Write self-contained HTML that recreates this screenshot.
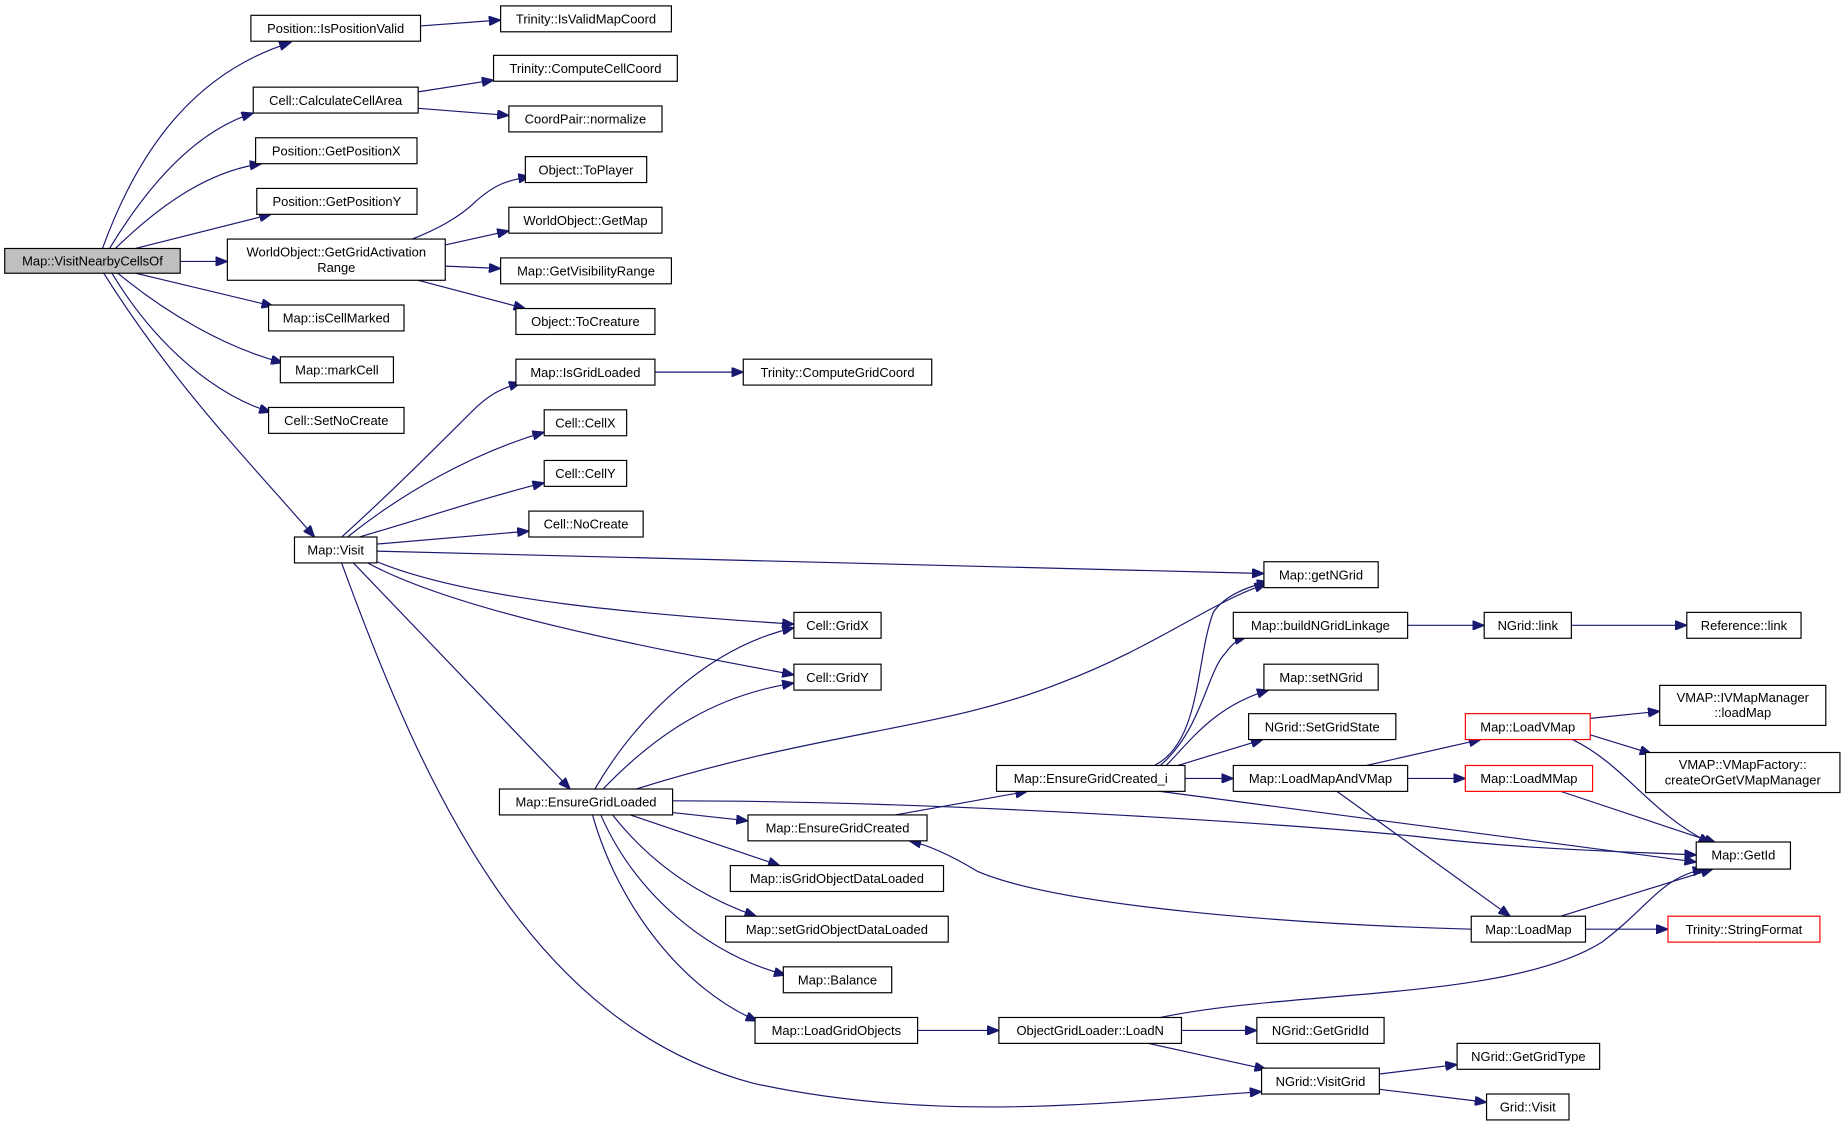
<!DOCTYPE html>
<html><head><meta charset="utf-8"><style>
html,body{margin:0;padding:0;background:#fff;}
svg{display:block;}
text{font-family:"Liberation Sans","DejaVu Sans",sans-serif;font-size:11px;fill:#000;text-anchor:middle;}
.n{fill:#fff;stroke:#000;stroke-width:1;}
.r{fill:#fff;stroke:#ff0000;stroke-width:1;}
.e{fill:none;stroke:#191970;stroke-width:1;marker-end:url(#a);}
</style></head><body>
<svg width="1847" height="1127" viewBox="0 0 1568 957" preserveAspectRatio="none">
<defs><marker id="a" markerUnits="userSpaceOnUse" markerWidth="11" markerHeight="8" refX="10" refY="4" orient="auto"><path d="M0,0 L10,4 L0,8 Z" fill="#191970" stroke="#191970"/></marker></defs>
<g>
<path class="e" d="M87,211 C120,120 170,60 247,36"/>
<path class="e" d="M93,211 C130,150 170,110 215,96"/>
<path class="e" d="M98,211 C140,170 180,145 222,139"/>
<path class="e" d="M115,211 L230,182"/>
<path class="e" d="M153,222 L193,222"/>
<path class="e" d="M115,232 L232,260"/>
<path class="e" d="M100,232 C140,265 190,295 240,308"/>
<path class="e" d="M95,232 C130,290 180,335 230,350"/>
<path class="e" d="M88,232 C150,330 210,390 267,456"/>
<path class="e" d="M357,22 L425,17"/>
<path class="e" d="M355,78 L419,68"/>
<path class="e" d="M355,92 L432,98"/>
<path class="e" d="M350,203 C370,195 390,185 405,170 C420,157 430,153 450,150"/>
<path class="e" d="M378,208 L432,196"/>
<path class="e" d="M378,226 L425,228"/>
<path class="e" d="M355,238 L446,262"/>
<path class="e" d="M290,456 C330,420 370,380 400,350 C415,335 425,330 442,325"/>
<path class="e" d="M295,456 C340,420 400,385 462,367"/>
<path class="e" d="M305,456 C360,440 420,420 462,410"/>
<path class="e" d="M320,462 L449,451"/>
<path class="e" d="M320,468 L1073,487"/>
<path class="e" d="M320,477 C400,510 550,522 674,530"/>
<path class="e" d="M312,478 C390,520 550,550 674,573"/>
<path class="e" d="M300,478 L484,670"/>
<path class="e" d="M290,478 C360,670 450,870 640,920 C800,955 950,935 1071,927"/>
<path class="e" d="M556,316 L631,316"/>
<path class="e" d="M505,670 C540,610 600,550 674,533"/>
<path class="e" d="M512,670 C560,620 610,590 674,580"/>
<path class="e" d="M540,670 C700,620 800,620 900,580 C980,550 1030,510 1075,496"/>
<path class="e" d="M571,690 L635,697"/>
<path class="e" d="M571,680 C800,680 1100,700 1200,710 C1300,722 1380,723 1440,726"/>
<path class="e" d="M535,692 L662,735"/>
<path class="e" d="M520,692 C550,730 590,760 642,778"/>
<path class="e" d="M510,692 C540,760 600,810 667,828"/>
<path class="e" d="M503,692 C525,770 580,840 643,867"/>
<path class="e" d="M760,692 L872,672"/>
<path class="e" d="M980,650 C1020,630 1015,560 1030,520 C1040,505 1060,498 1077,494"/>
<path class="e" d="M985,650 C1020,620 1025,570 1040,555 C1045,548 1050,543 1058,541"/>
<path class="e" d="M990,650 C1010,630 1030,600 1077,586"/>
<path class="e" d="M1000,650 L1072,628"/>
<path class="e" d="M1006,661 L1047,661"/>
<path class="e" d="M985,672 L1440,732"/>
<path class="e" d="M1160,650 L1257,628"/>
<path class="e" d="M1195,661 L1244,661"/>
<path class="e" d="M1135,672 L1282,778"/>
<path class="e" d="M1350,610 L1409,604"/>
<path class="e" d="M1350,624 L1402,640"/>
<path class="e" d="M1335,628 C1380,650 1400,690 1452,716"/>
<path class="e" d="M1325,672 L1457,716"/>
<path class="e" d="M1325,778 L1454,738"/>
<path class="e" d="M1346,789 L1416,789"/>
<path class="e" d="M1249,789 C1100,785 900,770 830,740 C810,728 790,718 772,714"/>
<path class="e" d="M1195,531 L1260,531"/>
<path class="e" d="M1334,531 L1432,531"/>
<path class="e" d="M779,875 L848,875"/>
<path class="e" d="M985,864 C1100,840 1280,850 1360,800 C1400,770 1410,745 1447,738"/>
<path class="e" d="M1003,875 L1067,875"/>
<path class="e" d="M975,886 L1075,908"/>
<path class="e" d="M1171,912 L1237,904"/>
<path class="e" d="M1171,925 L1262,936"/>
</g>
<g>
<rect x="4" y="211" width="149" height="21" fill="#bfbfbf" stroke="#000"/><text x="78.5" y="225.5">Map::VisitNearbyCellsOf</text>
<rect class="n" x="213" y="13" width="144" height="22"/><text x="285" y="28">Position::IsPositionValid</text>
<rect class="n" x="425" y="5" width="145" height="22"/><text x="497.5" y="20">Trinity::IsValidMapCoord</text>
<rect class="n" x="215" y="74" width="140" height="22"/><text x="285" y="89">Cell::CalculateCellArea</text>
<rect class="n" x="419" y="47" width="156" height="22"/><text x="497" y="62">Trinity::ComputeCellCoord</text>
<rect class="n" x="432" y="90" width="130" height="22"/><text x="497" y="105">CoordPair::normalize</text>
<rect class="n" x="217" y="117" width="137" height="22"/><text x="285.5" y="132">Position::GetPositionX</text>
<rect class="n" x="218" y="160" width="136" height="22"/><text x="286" y="175">Position::GetPositionY</text>
<rect class="n" x="193" y="203" width="185" height="35"/><text x="285.5" y="218">WorldObject::GetGridActivation</text><text x="285.5" y="231">Range</text>
<rect class="n" x="446" y="133" width="103" height="22"/><text x="497.5" y="148">Object::ToPlayer</text>
<rect class="n" x="432" y="176" width="130" height="22"/><text x="497" y="191">WorldObject::GetMap</text>
<rect class="n" x="425" y="219" width="145" height="22"/><text x="497.5" y="234">Map::GetVisibilityRange</text>
<rect class="n" x="438" y="262" width="118" height="22"/><text x="497" y="277">Object::ToCreature</text>
<rect class="n" x="228" y="259" width="115" height="22"/><text x="285.5" y="274">Map::isCellMarked</text>
<rect class="n" x="238" y="303" width="96" height="22"/><text x="286" y="318">Map::markCell</text>
<rect class="n" x="228" y="346" width="115" height="22"/><text x="285.5" y="361">Cell::SetNoCreate</text>
<rect class="n" x="438" y="305" width="118" height="22"/><text x="497" y="320">Map::IsGridLoaded</text>
<rect class="n" x="631" y="305" width="160" height="22"/><text x="711" y="320">Trinity::ComputeGridCoord</text>
<rect class="n" x="462" y="348" width="70" height="22"/><text x="497" y="363">Cell::CellX</text>
<rect class="n" x="462" y="391" width="70" height="22"/><text x="497" y="406">Cell::CellY</text>
<rect class="n" x="449" y="434" width="97" height="22"/><text x="497.5" y="449">Cell::NoCreate</text>
<rect class="n" x="250" y="456" width="70" height="22"/><text x="285" y="471">Map::Visit</text>
<rect class="n" x="1073" y="477" width="97" height="22"/><text x="1121.5" y="492">Map::getNGrid</text>
<rect class="n" x="674" y="520" width="74" height="22"/><text x="711" y="535">Cell::GridX</text>
<rect class="n" x="674" y="564" width="74" height="22"/><text x="711" y="579">Cell::GridY</text>
<rect class="n" x="1047" y="520" width="148" height="22"/><text x="1121" y="535">Map::buildNGridLinkage</text>
<rect class="n" x="1260" y="520" width="74" height="22"/><text x="1297" y="535">NGrid::link</text>
<rect class="n" x="1432" y="520" width="97" height="22"/><text x="1480.5" y="535">Reference::link</text>
<rect class="n" x="1073" y="564" width="97" height="22"/><text x="1121.5" y="579">Map::setNGrid</text>
<rect class="n" x="1060" y="606" width="125" height="22"/><text x="1122.5" y="621">NGrid::SetGridState</text>
<rect class="r" x="1244" y="606" width="106" height="22"/><text x="1297" y="621">Map::LoadVMap</text>
<rect class="n" x="1409" y="582" width="141" height="34"/><text x="1479.5" y="596">VMAP::IVMapManager</text><text x="1479.5" y="609">::loadMap</text>
<rect class="n" x="1397" y="639" width="165" height="34"/><text x="1479.5" y="653">VMAP::VMapFactory::</text><text x="1479.5" y="666">createOrGetVMapManager</text>
<rect class="n" x="846" y="650" width="160" height="22"/><text x="926" y="665">Map::EnsureGridCreated_i</text>
<rect class="n" x="1047" y="650" width="148" height="22"/><text x="1121" y="665">Map::LoadMapAndVMap</text>
<rect class="r" x="1244" y="650" width="108" height="22"/><text x="1298" y="665">Map::LoadMMap</text>
<rect class="n" x="424" y="670" width="147" height="22"/><text x="497.5" y="685">Map::EnsureGridLoaded</text>
<rect class="n" x="635" y="692" width="152" height="22"/><text x="711" y="707">Map::EnsureGridCreated</text>
<rect class="n" x="1440" y="715" width="80" height="23"/><text x="1480" y="730">Map::GetId</text>
<rect class="n" x="620" y="735" width="181" height="22"/><text x="710.5" y="750">Map::isGridObjectDataLoaded</text>
<rect class="n" x="616" y="778" width="189" height="22"/><text x="710.5" y="793">Map::setGridObjectDataLoaded</text>
<rect class="r" x="1416" y="778" width="129" height="22"/><text x="1480.5" y="793">Trinity::StringFormat</text>
<rect class="n" x="1249" y="778" width="97" height="22"/><text x="1297.5" y="793">Map::LoadMap</text>
<rect class="n" x="665" y="821" width="92" height="22"/><text x="711" y="836">Map::Balance</text>
<rect class="n" x="641" y="864" width="138" height="22"/><text x="710" y="879">Map::LoadGridObjects</text>
<rect class="n" x="848" y="864" width="155" height="22"/><text x="925.5" y="879">ObjectGridLoader::LoadN</text>
<rect class="n" x="1067" y="864" width="108" height="22"/><text x="1121" y="879">NGrid::GetGridId</text>
<rect class="n" x="1237" y="886" width="121" height="22"/><text x="1297.5" y="901">NGrid::GetGridType</text>
<rect class="n" x="1071" y="907" width="100" height="22"/><text x="1121" y="922">NGrid::VisitGrid</text>
<rect class="n" x="1262" y="929" width="70" height="22"/><text x="1297" y="944">Grid::Visit</text>
</g>
</svg>
</body></html>
